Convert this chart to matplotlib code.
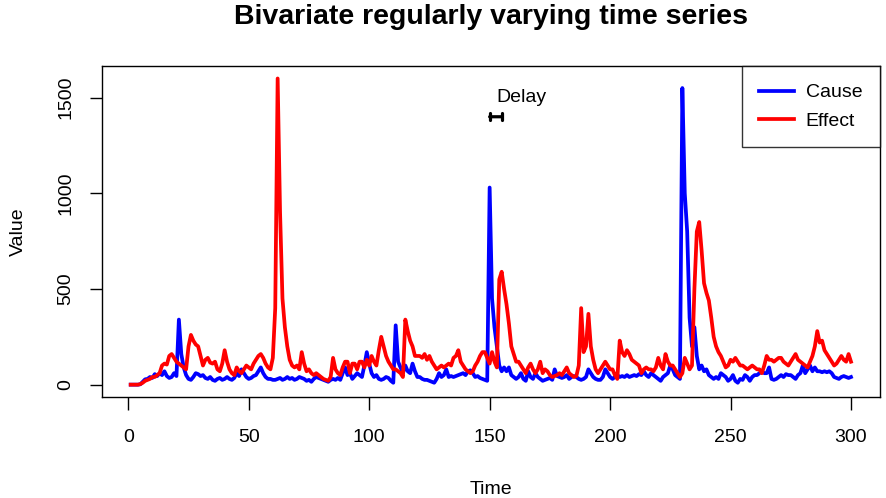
import matplotlib
matplotlib.use("Agg")
import matplotlib.pyplot as plt
import numpy as np

plt.rcParams['font.family'] = ['Liberation Sans', 'DejaVu Sans']

# Cause series, t = 1..300
cause = [
    0, 0, 0, 0, 2, 15, 28, 30, 40, 35,
    55, 45, 60, 50, 70, 45, 35, 40, 60, 45,
    340, 160, 90, 50, 30, 25, 40, 60, 55, 45,
    50, 35, 30, 40, 25, 20, 30, 35, 25, 30,
    40, 30, 25, 35, 60, 45, 80, 60, 40, 30,
    35, 45, 50, 70, 90, 60, 40, 30, 30, 25,
    25, 30, 35, 25, 30, 40, 30, 35, 25, 30,
    40, 35, 30, 20, 25, 15, 30, 40, 35, 30,
    25, 20, 15, 25, 30, 25, 35, 25, 60, 90,
    50, 60, 30, 45, 60, 50, 40, 100, 170, 110,
    60, 40, 50, 30, 25, 30, 40, 35, 20, 10,
    310, 120, 90, 60, 100, 70, 60, 110, 70, 40,
    40, 30, 25, 25, 20, 15, 10, 30, 60, 40,
    50, 80, 40, 45, 40, 45, 50, 55, 60, 50,
    70, 75, 60, 40, 45, 35, 30, 25, 20, 1030,
    450, 300, 200, 100, 70, 90, 70, 90, 50, 40,
    30, 40, 60, 30, 20, 70, 40, 30, 60, 40,
    30, 20, 25, 30, 35, 25, 80, 45, 40, 35,
    40, 50, 30, 40, 45, 40, 30, 25, 30, 40,
    80, 60, 40, 30, 25, 25, 40, 80, 60, 40,
    30, 40, 50, 40, 45, 40, 50, 40, 45, 50,
    45, 55, 50, 70, 50, 40, 60, 50, 40, 30,
    20, 40, 50, 60, 100, 80, 50, 40, 30, 1550,
    1000, 800, 350, 200, 300, 150, 80, 100, 70, 80,
    50, 40, 30, 40, 30, 60, 50, 40, 20, 30,
    50, 20, 10, 30, 25, 50, 40, 20, 40, 50,
    50, 60, 70, 60, 60, 90, 30, 25, 30, 40,
    50, 40, 55, 50, 50, 40, 30, 50, 60, 100,
    60, 80, 100, 70, 90, 70, 70, 65, 70, 65,
    70, 60, 40, 35, 30, 40, 45, 40, 35, 40,
]

# Effect series, t = 1..300
effect = [
    0, 0, 0, 0, 3, 10, 20, 25, 30, 40,
    40, 50, 60, 100, 110, 105, 150, 160, 140, 120,
    110, 100, 90, 80, 200, 260, 230, 210, 200, 150,
    100, 130, 140, 115, 110, 120, 80, 70, 110, 180,
    120, 80, 60, 50, 90, 70, 60, 80, 100, 90,
    80, 110, 130, 150, 160, 140, 110, 90, 80, 140,
    400, 1600, 900, 450, 300, 200, 130, 100, 90, 100,
    80, 170, 110, 70, 80, 60, 50, 60, 50, 40,
    30, 25, 20, 40, 140, 80, 60, 50, 90, 120,
    120, 60, 110, 110, 80, 120, 120, 90, 130, 100,
    150, 120, 100, 180, 250, 200, 150, 120, 100, 80,
    80, 70, 60, 40, 340, 280, 230, 200, 150, 150,
    150, 140, 160, 130, 150, 120, 100, 80, 90, 100,
    90, 100, 110, 100, 140, 150, 180, 120, 100, 80,
    70, 60, 70, 100, 120, 150, 170, 170, 140, 110,
    170, 120, 90, 550, 590, 500, 420, 320, 200, 160,
    120, 120, 100, 80, 60, 90, 110, 80, 60, 80,
    120, 60, 80, 70, 50, 40, 45, 50, 60, 50,
    70, 90, 60, 50, 40, 45, 100, 400, 170, 200,
    370, 200, 130, 80, 60, 80, 100, 120, 100, 80,
    80, 50, 30, 230, 170, 150, 180, 160, 130, 120,
    110, 100, 60, 80, 90, 80, 80, 70, 90, 140,
    100, 80, 160, 120, 100, 100, 80, 60, 40, 60,
    140, 110, 80, 100, 500, 800, 850, 700, 530, 480,
    440, 350, 250, 200, 170, 150, 120, 90, 100, 130,
    120, 140, 120, 100, 100, 90, 80, 90, 100, 90,
    80, 80, 60, 100, 150, 130, 130, 120, 130, 140,
    140, 120, 110, 100, 120, 140, 160, 130, 120, 110,
    100, 90, 120, 150, 200, 280, 220, 230, 180, 160,
    140, 120, 100, 110, 130, 150, 130, 120, 160, 120,
]
time = np.arange(1, len(cause) + 1)

delay_start = 150
delay_end = 155
delay_y = 1400

fig = plt.figure(figsize=(8.86, 4.98), dpi=100)
ax = fig.add_axes([0.115, 0.203, 0.878, 0.664])

ax.plot(time, cause, color='blue', lw=2.7, label='Cause')
ax.plot(time, effect, color='red', lw=2.7, label='Effect')

ax.annotate('', xy=(delay_end, delay_y), xytext=(delay_start, delay_y),
            arrowprops=dict(arrowstyle='|-|,widthA=0.25,widthB=0.25', lw=2.3,
                            color='black', shrinkA=0, shrinkB=0))
ax.text(153, 1500, 'Delay', fontsize=14, ha='left', va='center')

ax.set_xlim(-10.96, 311.96)
ax.set_ylim(-64, 1664)
ax.set_xticks([0, 50, 100, 150, 200, 250, 300])
ax.set_yticks([0, 500, 1000, 1500])
ax.tick_params(axis='both', direction='out', length=9, width=1, labelsize=14)
ax.tick_params(axis='x', pad=14)
ax.tick_params(axis='y', labelrotation=90, pad=11)
for lbl in ax.get_yticklabels():
    lbl.set_va('center')
for s in ax.spines.values():
    s.set_linewidth(1)
    s.set_color('black')

ax.set_xlabel('Time', fontsize=14, labelpad=25)
ax.set_ylabel('Value', fontsize=14, labelpad=22)
fig.text(0.554, 0.966, 'Bivariate regularly varying time series',
         fontsize=20.5, fontweight='bold', ha='center', va='center')

leg = ax.legend(loc='upper right', fontsize=14, frameon=True, fancybox=False,
                borderaxespad=0, handlelength=1.8, handletextpad=0.6,
                borderpad=0.9, labelspacing=0.55)
leg.get_frame().set_edgecolor('black')
leg.get_frame().set_linewidth(1)

fig.savefig('out.png', dpi=100)
